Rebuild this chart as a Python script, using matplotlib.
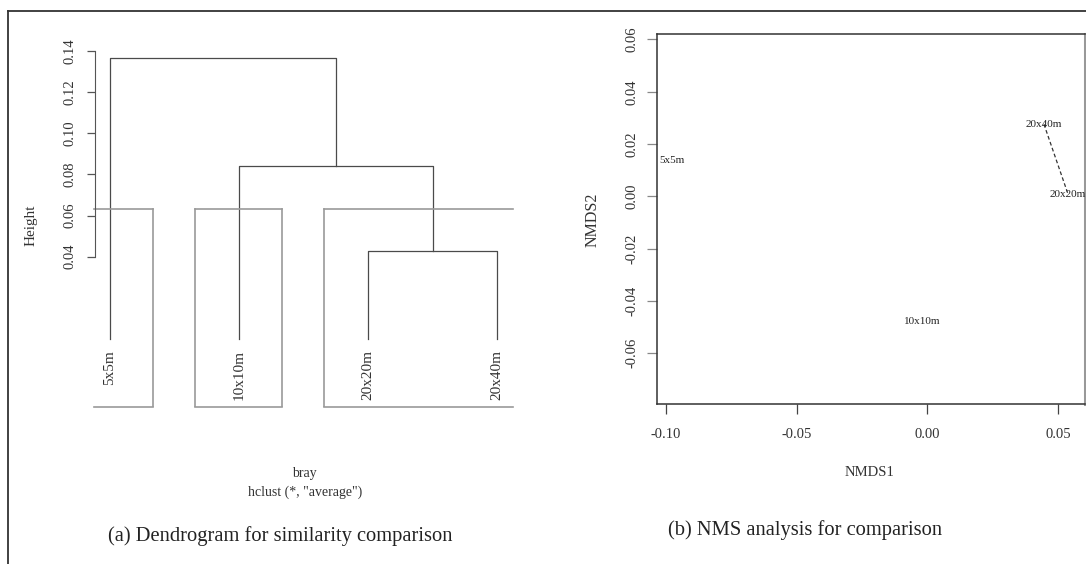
import matplotlib
matplotlib.use("Agg")
import matplotlib.pyplot as plt
from matplotlib.lines import Line2D

plt.rcParams['font.family'] = ['Liberation Serif', 'DejaVu Serif']

# dendrogram data (bray-curtis, average linkage)
leaf_labels = ["5x5m", "10x10m", "20x20m", "20x40m"]
# merges: (cluster a, cluster b, height); ids >= 4 are earlier merges
merges = [(2, 3, 0.0429), (1, 4, 0.0839), (0, 5, 0.1366)]
cut_height = 0.0631
cut_groups = [[0], [1], [2, 3]]
height_ticks = [0.04, 0.06, 0.08, 0.10, 0.12, 0.14]

# NMDS scores
site_names = ["5x5m", "10x10m", "20x20m", "20x40m"]
nmds1 = [-0.0977, -0.0020, 0.0538, 0.0446]
nmds2 = [0.0139, -0.0479, 0.0009, 0.0276]
hull_sites = [3, 2]
nmds1_ticks = [-0.10, -0.05, 0.00, 0.05]
nmds2_ticks = [-0.06, -0.04, -0.02, 0.00, 0.02, 0.04, 0.06]

W, H = 1086, 564
fig = plt.figure(figsize=(W / 100, H / 100), dpi=100)


def px(x, y):
    return x / W, 1 - y / H


def ax_rect(x0, y0, x1, y1):
    return [x0 / W, 1 - y1 / H, (x1 - x0) / W, (y1 - y0) / H]


tree_col = "#4a4a4a"
box_col = "#9a9a9a"
text_col = "#333333"

# ---- (a) dendrogram ----
ax1 = fig.add_axes(ax_rect(94.5, 40, 512.5, 407))
n = len(leaf_labels)
xlo, xhi = 1 - 0.04 * (n - 1), n + 0.04 * (n - 1)
ax1.set_xlim(xlo, xhi)
ax1.set_ylim(-0.0331, 0.14535)

pos = {i: (i + 1, 0.0) for i in range(n)}
for k, (a, b, h) in enumerate(merges):
    xa, ya = pos[a]
    xb, yb = pos[b]
    ax1.plot([xa, xa, xb, xb], [ya, h, h, yb], color=tree_col, lw=0.9)
    pos[n + k] = ((xa + xb) / 2, h)

# rect.hclust style boxes, clipped to the plot region (sides outside are lost)
ybot = ax1.get_ylim()[0]
m = 0
for g in cut_groups:
    x0 = m + 0.66
    x1 = m + len(g) + 0.33
    cx0, cx1 = max(x0, xlo), min(x1, xhi)
    for yy in (cut_height, ybot):
        ax1.plot([cx0, cx1], [yy, yy], color=box_col, lw=1.2, clip_on=False)
    for xx in (x0, x1):
        if xlo <= xx <= xhi:
            ax1.plot([xx, xx], [ybot, cut_height], color=box_col, lw=1.2)
    m += len(g)

for i, lab in enumerate(leaf_labels):
    ax1.annotate(lab, (i + 1, 0.0), xytext=(0, -8), textcoords="offset points",
                 rotation=90, ha="center", va="top", fontsize=11, color=text_col)

for s in ["top", "right", "bottom"]:
    ax1.spines[s].set_visible(False)
ax1.spines["left"].set_bounds(height_ticks[0], height_ticks[-1])
ax1.spines["left"].set_color("#555555")
ax1.set_yticks(height_ticks)
ax1.set_yticklabels(["%.2f" % t for t in height_ticks], rotation=90,
                    va="center", fontsize=10.5, color=text_col)
ax1.tick_params(axis="y", length=6, width=0.9, color="#555555", pad=7)
ax1.set_xticks([])

fig.text(*px(31, 225), "Height", rotation=90, ha="center", va="center",
         fontsize=11, color=text_col)
fig.text(*px(304, 473), "bray", ha="center", va="center", fontsize=10, color=text_col)
fig.text(*px(305, 492), 'hclust (*, "average")', ha="center", va="center",
         fontsize=10, color=text_col)
fig.text(*px(280, 536), "(a) Dendrogram for similarity comparison",
         ha="center", va="center", fontsize=14.8, color="#222222")

# ---- (b) NMDS ----
ax2 = fig.add_axes(ax_rect(657, 34, 1085, 404))
ax2.set_xlim(-0.1034, 0.0603)
ax2.set_ylim(-0.0794, 0.0621)
for x, y, lab in zip(nmds1, nmds2, site_names):
    ax2.text(x, y, lab, ha="center", va="center", fontsize=8, color="#222222")
ax2.plot([nmds1[i] for i in hull_sites], [nmds2[i] for i in hull_sites],
         color="#333333", lw=0.9, ls=(0, (3, 2)))

ax2.set_xticks(nmds1_ticks)
ax2.set_xticklabels(["%.2f" % t for t in nmds1_ticks], fontsize=10.5, color=text_col)
ax2.set_yticks(nmds2_ticks)
ax2.set_yticklabels(["%.2f" % t for t in nmds2_ticks], rotation=90, va="center",
                    fontsize=10.5, color=text_col)
ax2.tick_params(axis="x", length=7, width=0.9, color="#444444", pad=10)
ax2.tick_params(axis="y", length=7, width=0.9, color="#888888", pad=6)
for s in ["left", "bottom", "top"]:
    ax2.spines[s].set_color("#333333")
    ax2.spines[s].set_linewidth(1.1)
ax2.spines["right"].set_color("#999999")
ax2.spines["right"].set_linewidth(2.2)

fig.text(*px(869.5, 472), "NMDS1", ha="center", va="center", fontsize=10.5,
         color=text_col)
fig.text(*px(593, 220), "NMDS2", rotation=90, ha="center", va="center",
         fontsize=11.5, color=text_col)
fig.text(*px(805, 530), "(b) NMS analysis for comparison",
         ha="center", va="center", fontsize=14.8, color="#222222")

# outer frame of the scanned figure
fig.add_artist(Line2D([8 / W, 1], [1 - 11 / H, 1 - 11 / H], color="#333333", lw=1.3))
fig.add_artist(Line2D([8 / W, 8 / W], [1 - 11 / H, 0], color="#333333", lw=1.3))

fig.savefig("out.png", dpi=100)
